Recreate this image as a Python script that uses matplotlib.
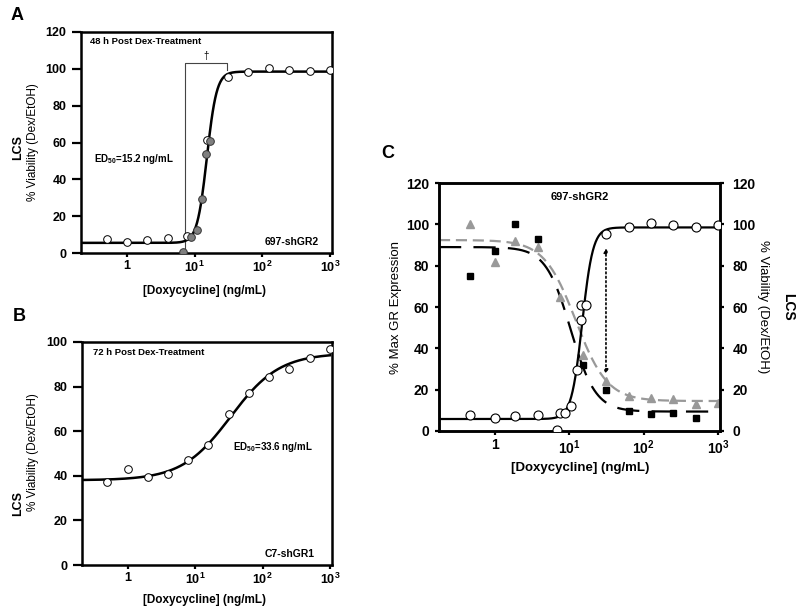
import numpy as np
import matplotlib.pyplot as plt
from matplotlib.ticker import NullLocator

plt.rcParams['font.family'] = ['Liberation Sans', 'DejaVu Sans']
plt.rcParams['mathtext.fontset'] = 'custom'
plt.rcParams['mathtext.bf'] = 'Liberation Sans:bold'
plt.rcParams['mathtext.rm'] = 'Liberation Sans:bold'
plt.rcParams['mathtext.default'] = 'bf'

# tick marks on the dose axis
dose_ticks = [1, 10, 100, 1000]
dose_labels = ['1', r'$10^{1}$', r'$10^{2}$', r'$10^{3}$']

# panel A: 697-shGR2, 48 h
a_open_x = [0.5, 1, 2, 4, 7.6, 15, 31.25, 62.5, 125, 250, 500, 1000]
a_open_y = [7.6, 6.1, 7.2, 7.9, 9.0, 61.3, 95.5, 98.2, 100.2, 99.6, 98.7, 99.6]
a_gray_x = [6.8, 9.0, 10.8, 12.7, 14.7, 16.8]
a_gray_y = [0.5, 8.6, 12.6, 29.5, 53.9, 60.9]
a_fit = [5.5, 98.5, 15.2, 6.0]      # left plateau, right plateau, ED50, hill

# panel B: C7-shGR1, 72 h
b_x = [0.5, 1, 2, 4, 7.8, 15.6, 31.25, 62.5, 125, 250, 500, 1000]
b_y = [37.0, 43.1, 39.4, 40.7, 46.9, 53.6, 67.7, 77.1, 84.3, 87.9, 92.7, 96.7]
b_fit = [38.0, 95.0, 33.6, 1.2]

# panel C: viability (circles), GR expression (squares / triangles)
c_via_x = [0.47, 1, 1.9, 3.85, 6.9, 7.6, 8.7, 10.5, 12.8, 14.5, 14.6, 16.9,
           31.3, 63, 124, 252, 500, 1000]
c_via_y = [7.8, 6.5, 7.3, 7.8, 0.6, 8.9, 8.6, 12.1, 29.6, 53.9, 61.2, 61.2,
           95.1, 98.7, 100.5, 99.7, 98.9, 99.7]
c_via_fit = [5.8, 98.5, 15.0, 6.0]

c_sq_x = [0.47, 1, 1.9, 3.85, 15.5, 31.3, 63, 124, 252, 500]
c_sq_y = [74.9, 87.1, 100.0, 92.7, 32.0, 19.9, 9.7, 8.3, 8.9, 6.1]
c_sq_fit = [89.0, 9.4, 10.5, 2.6]

c_tri_x = [0.47, 1, 1.9, 3.85, 7.6, 15.5, 31.3, 63, 124, 252, 500, 1000]
c_tri_y = [100.3, 81.9, 91.9, 89.2, 64.9, 36.9, 24.4, 17.0, 15.9, 15.4, 12.9, 13.4]
c_tri_fit = [92.4, 14.5, 12.3, 2.05]


def logistic(x, left, right, ec50, hill):
    return right + (left - right) / (1 + (x / ec50) ** hill)


def style(ax, ymax, step, xlim, ylen, fs):
    ax.set_xscale('log')
    ax.set_xlim(*xlim)
    ax.set_ylim(0, ymax)
    ax.set_xticks(dose_ticks)
    ax.set_xticklabels(dose_labels)
    ax.xaxis.set_minor_locator(NullLocator())
    ax.set_yticks(range(0, ymax + 1, step))
    for s in ax.spines.values():
        s.set_linewidth(1.8)
    ax.tick_params(axis='y', direction='out', length=ylen, width=1.6, labelsize=fs, pad=4)
    ax.tick_params(axis='x', direction='out', length=3, width=1.6, labelsize=fs, pad=2)
    for lab in ax.get_xticklabels() + ax.get_yticklabels():
        lab.set_fontweight('bold')


fig = plt.figure(figsize=(8, 6.12), dpi=100)
W, H = 800, 612

# ---------------- A ----------------
ax_a = fig.add_axes([81 / W, 1 - 253 / H, 251 / W, 221 / H])
style(ax_a, 120, 20, (0.21, 1070), 6.5, 9)
xs = np.logspace(np.log10(0.21), 3, 400)
ax_a.plot(xs, logistic(xs, *a_fit), color='black', lw=1.8, zorder=2)
ax_a.plot(a_open_x, a_open_y, 'o', mfc='white', mec='black', mew=0.7, ms=5.5, zorder=3)
ax_a.plot(a_gray_x, a_gray_y, 'o', mfc='#7f7f7f', mec='#333333', mew=0.7, ms=5.5, zorder=4)
ax_a.plot([7.2, 7.2, 30.3, 30.3], [2.5, 103, 103, 99.5], color='#444444', lw=0.8, zorder=1)
ax_a.text(15, 104.5, '†', fontsize=7, ha='center', va='bottom')
ax_a.text(0.036, 0.956, '48 h Post Dex-Treatment', transform=ax_a.transAxes,
          fontsize=6.8, fontweight='bold', va='center')
ax_a.text(0.052, 0.425, r'ED$_{50}$=15.2 ng/mL', transform=ax_a.transAxes,
          fontsize=7, fontweight='bold', va='center')
ax_a.text(0.948, 0.05, '697-shGR2', transform=ax_a.transAxes,
          fontsize=7.5, fontweight='bold', ha='right', va='center')

# ---------------- B ----------------
ax_b = fig.add_axes([82 / W, 1 - 565 / H, 250 / W, 223 / H])
style(ax_b, 100, 20, (0.21, 1070), 6.5, 9)
ax_b.plot(xs, logistic(xs, *b_fit), color='black', lw=1.8, zorder=2)
ax_b.plot(b_x, b_y, 'o', mfc='white', mec='black', mew=0.7, ms=5.5, zorder=3)
ax_b.text(0.044, 0.952, '72 h Post Dex-Treatment', transform=ax_b.transAxes,
          fontsize=6.8, fontweight='bold', va='center')
ax_b.text(0.605, 0.53, r'ED$_{50}$=33.6 ng/mL', transform=ax_b.transAxes,
          fontsize=7, fontweight='bold', va='center')
ax_b.text(0.932, 0.049, 'C7-shGR1', transform=ax_b.transAxes,
          fontsize=7.5, fontweight='bold', ha='right', va='center')

# ---------------- C ----------------
ax_c = fig.add_axes([439 / W, 1 - 431 / H, 281 / W, 248 / H])
style(ax_c, 120, 20, (0.18, 1060), 3, 10)
ax_c2 = ax_c.twinx()
ax_c2.set_ylim(0, 120)
ax_c2.set_yticks(range(0, 121, 20))
ax_c2.tick_params(axis='y', direction='out', length=3, width=1.6, labelsize=10, pad=6)
for lab in ax_c2.get_yticklabels():
    lab.set_fontweight('bold')
for s in ax_c2.spines.values():
    s.set_linewidth(1.8)

xc = np.logspace(np.log10(0.18), 3, 400)
ax_c.plot(xc, logistic(xc, *c_tri_fit), color='#999999', lw=1.6, dashes=(5, 2.6), zorder=1)
ax_c.plot(xc, logistic(xc, *c_sq_fit), color='black', lw=1.6, dashes=(10, 5.5), zorder=1)
ax_c.plot(c_tri_x, c_tri_y, '^', color='#999999', mec='#999999', ms=6, zorder=2)
ax_c.plot(c_sq_x, c_sq_y, 's', color='black', ms=5, zorder=2)
ax_c2.plot(xc, logistic(xc, *c_via_fit), color='black', lw=1.6, zorder=3)
ax_c2.plot(c_via_x, c_via_y, 'o', mfc='white', mec='black', mew=0.8, ms=6.5, zorder=4)
ax_c2.annotate('', xy=(31.3, 27.5), xytext=(31.3, 88.5),
               arrowprops=dict(arrowstyle='<|-|>', linestyle=':', lw=1.2,
                               color='black', mutation_scale=6,
                               shrinkA=0, shrinkB=0))
ax_c2.text(0.5, 0.944, '697-shGR2', transform=ax_c2.transAxes,
           fontsize=8, fontweight='bold', ha='center', va='center')

# panel letters and axis titles
for letter, px, py in [('A', 17, 15), ('B', 19, 316), ('C', 388, 154)]:
    fig.text(px / W, 1 - py / H, letter, fontsize=13, fontweight='bold',
             ha='center', va='center')

for cy_lcs, cy_via in [(147, 142), (503, 452)]:
    fig.text(18 / W, 1 - cy_lcs / H, 'LCS', rotation=90, fontsize=9,
             fontweight='bold', ha='center', va='center')
    fig.text(33 / W, 1 - cy_via / H, '% Viability (Dex/EtOH)', rotation=90,
             fontsize=8.5, ha='center', va='center')
for cy in [291, 600]:
    fig.text(205 / W, 1 - cy / H, '[Doxycycline] (ng/mL)', fontsize=8.5,
             fontweight='bold', ha='center', va='center')

fig.text(580 / W, 1 - 468 / H, '[Doxycycline] (ng/mL)', fontsize=9.5,
         fontweight='bold', ha='center', va='center')
fig.text(396 / W, 1 - 307 / H, '% Max GR Expression', rotation=90, fontsize=9.5,
         ha='center', va='center')
fig.text(763 / W, 1 - 307 / H, '% Viability (Dex/EtOH)', rotation=270, fontsize=9.5,
         ha='center', va='center')
fig.text(788 / W, 1 - 307 / H, 'LCS', rotation=270, fontsize=10,
         fontweight='bold', ha='center', va='center')

fig.savefig('out.png', dpi=100)
